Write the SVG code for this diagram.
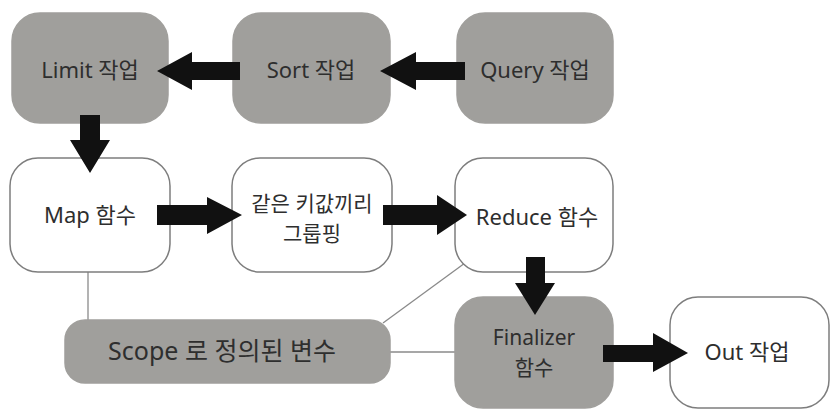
<svg xmlns="http://www.w3.org/2000/svg" width="838" height="415" viewBox="0 0 838 415">
<style>
.g{fill:#a09f9c;stroke:#a09f9c;stroke-width:1.5}
.w{fill:#ffffff;stroke:#7d7d7d;stroke-width:1.5}
.t{font-family:"Noto Sans","Noto Sans CJK KR",sans-serif;font-size:22px;fill:#2e2e2e;text-anchor:middle}
.s{font-size:21px}
.a{fill:#111111}
.l{stroke:#8a8a8a;stroke-width:1.3;fill:none}
</style>
<rect width="838" height="415" fill="#ffffff"/>
<g id="connectors">
<line class="l" x1="88" y1="272" x2="88" y2="320"/>
<line class="l" x1="383" y1="323" x2="465" y2="263"/>
<line class="l" x1="390" y1="352" x2="455" y2="352"/>
</g>
<g id="limit"><rect class="g" x="12" y="13" width="156" height="110" rx="28"/><text class="t" x="90" y="78">Limit 작업</text></g>
<g id="sort"><rect class="g" x="233" y="13" width="157" height="110" rx="28"/><text class="t" x="311" y="78">Sort 작업</text></g>
<g id="query"><rect class="g" x="457" y="13" width="156" height="110" rx="28"/><text class="t" x="535" y="78">Query 작업</text></g>
<g id="map"><rect class="w" x="10" y="158" width="160" height="114" rx="28"/><text class="t" x="90" y="223">Map 함수</text></g>
<g id="group"><rect class="w" x="232" y="158" width="160" height="114" rx="28"/><text class="t s" x="312" y="211">같은 키값끼리</text><text class="t s" x="312" y="241">그룹핑</text></g>
<g id="reduce"><rect class="w" x="455" y="158" width="158" height="114" rx="28"/><text class="t" x="537" y="225">Reduce 함수</text></g>
<g id="scope"><rect class="g" x="65" y="320" width="325" height="63" rx="20"/><text class="t" x="222" y="360" style="font-size:25px">Scope 로 정의된 변수</text></g>
<g id="finalizer"><rect class="g" x="455" y="297" width="158" height="111" rx="28"/><text class="t s" x="534" y="345">Finalizer</text><text class="t s" x="534" y="375">함수</text></g>
<g id="out"><rect class="w" x="670" y="297" width="159" height="111" rx="28"/><text class="t" x="747" y="360">Out 작업</text></g>
<g id="arrows">
<polygon class="a" points="240,62 192,62 192,52 157,71 192,90 192,80 240,80"/>
<polygon class="a" points="465,62 416,62 416,52 380,71 416,90 416,80 465,80"/>
<polygon class="a" points="80,115 100,115 100,140 110,140 90,173 70,140 80,140"/>
<polygon class="a" points="157,205 207,205 207,197 242,215 207,234 207,225 157,225"/>
<polygon class="a" points="383,205 437,205 437,195 467,215 437,235 437,225 383,225"/>
<polygon class="a" points="526,257 545,257 545,283 555,283 535,315 515,283 526,283"/>
<polygon class="a" points="603,345 653,345 653,333 688,353 653,372 653,362 603,362"/>
</g>
</svg>
